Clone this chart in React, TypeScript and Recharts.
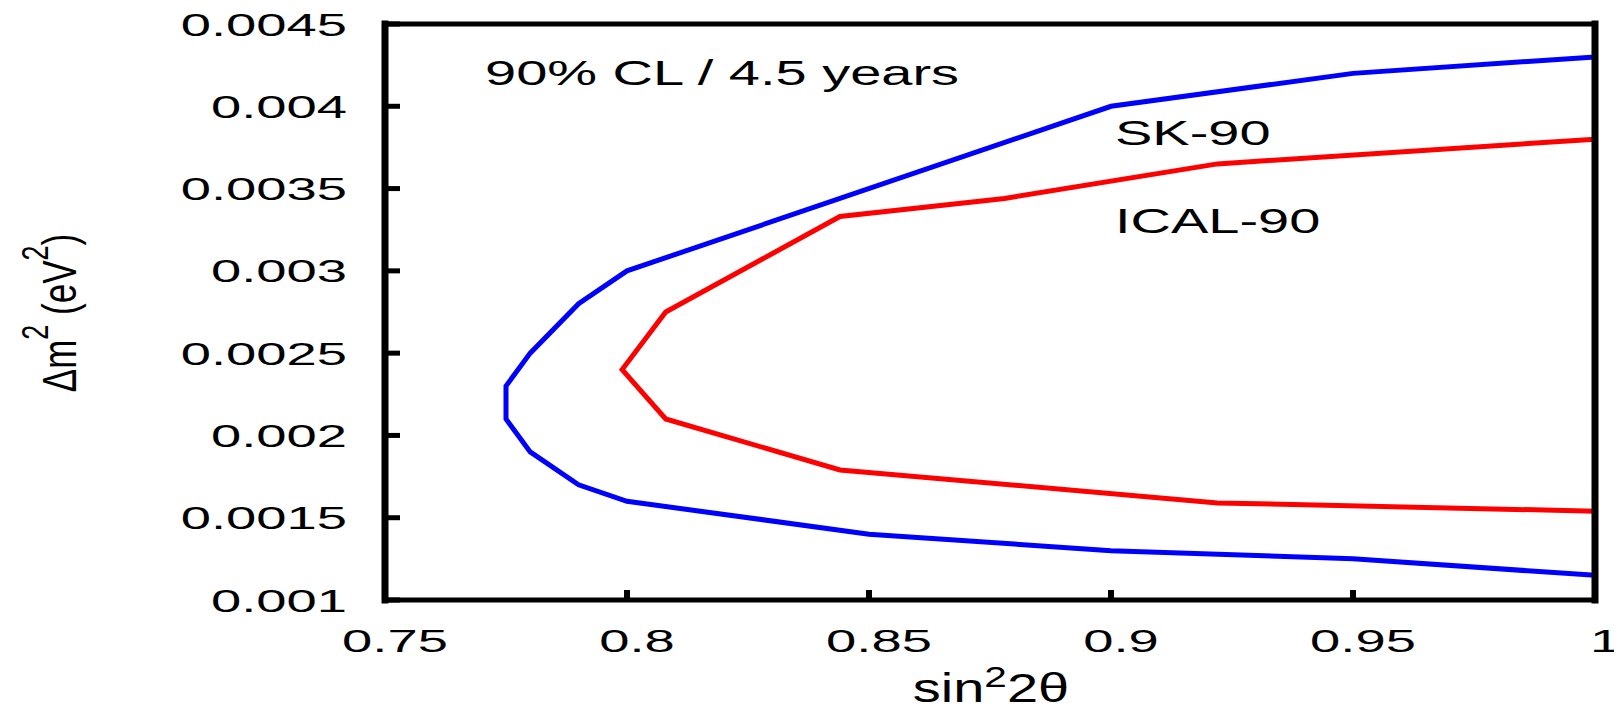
import { LineChart, Line, XAxis, YAxis, Label, Customized } from 'recharts';

const FONT = '"Liberation Sans", Arial, Helvetica, sans-serif';

// SK-90 contour (sin^2 2theta, delta m^2)
const skX = [1, 0.95, 0.9, 0.8, 0.79, 0.78, 0.775, 0.775, 0.78, 0.79, 0.8, 0.85, 0.9, 0.95, 1];
const skY = [0.0043, 0.0042, 0.004, 0.003, 0.0028, 0.0025, 0.0023, 0.0021, 0.0019, 0.0017, 0.0016, 0.0014, 0.0013, 0.00125, 0.00115];

// ICAL-90 contour
const icalX = [1, 0.922, 0.878, 0.844, 0.808, 0.799, 0.808, 0.844, 0.922, 1];
const icalY = [0.0038, 0.00365, 0.00344, 0.00333, 0.00275, 0.0024, 0.0021, 0.00179, 0.00159, 0.00154];

const xTicks = [0.75, 0.8, 0.85, 0.9, 0.95, 1];
const xTickLabels = ['0.75', '0.8', '0.85', '0.9', '0.95', '1'];
const yTicks = [0.001, 0.0015, 0.002, 0.0025, 0.003, 0.0035, 0.004, 0.0045];
const yTickLabels = ['0.001', '0.0015', '0.002', '0.0025', '0.003', '0.0035', '0.004', '0.0045'];

const skData = skX.map((x, i) => ({ x, y: skY[i] }));
const icalData = icalX.map((x, i) => ({ x, y: icalY[i] }));

const BottomTick = (props: any) => {
  const { x, y, payload } = props;
  const label = xTickLabels[xTicks.indexOf(payload.value)];
  return (
    <g>
      <line x1={x} x2={x} y1={y} y2={y - 10} stroke="#000" strokeWidth={6} />
      <text
        transform={`translate(${x + 10},${y + 52}) scale(1.7,1)`}
        textAnchor="middle"
        fontSize={32}
        fontFamily={FONT}
        fill="#000"
      >
        {label}
      </text>
    </g>
  );
};

const TopTick = (props: any) => {
  const { x, y } = props;
  return <line x1={x} x2={x} y1={y} y2={y + 10} stroke="#000" strokeWidth={6} />;
};

const LeftTick = (props: any) => {
  const { x, y, payload } = props;
  const label = yTickLabels[yTicks.indexOf(payload.value)];
  return (
    <g>
      <line x1={x} x2={x + 15} y1={y} y2={y} stroke="#000" strokeWidth={5} />
      <text
        transform={`translate(${x - 38},${y + 11.5}) scale(1.7,1)`}
        textAnchor="end"
        fontSize={32}
        fontFamily={FONT}
        fill="#000"
      >
        {label}
      </text>
    </g>
  );
};

const RightTick = (props: any) => {
  const { x, y } = props;
  return <line x1={x - 15} x2={x} y1={y} y2={y} stroke="#000" strokeWidth={5} />;
};

const YTitle = (props: any) => {
  const { x, y, height } = props.viewBox;
  return (
    <text
      transform={`translate(${x + 76},${y + height / 2 + 1}) scale(1.4,1) rotate(-90)`}
      textAnchor="middle"
      fontSize={35}
      fontFamily={FONT}
      fill="#000"
    >
      Δm<tspan fontSize={27} dy={-20}>2</tspan>
      <tspan dy={20}> (eV</tspan>
      <tspan fontSize={27} dy={-20}>2</tspan>
      <tspan dy={20}>)</tspan>
    </text>
  );
};

const XTitle = (props: any) => {
  const { x, y, width } = props.viewBox;
  return (
    <text
      transform={`translate(${x + width / 2 + 1},${y + 102}) scale(1.4,1)`}
      textAnchor="middle"
      fontSize={40}
      fontFamily={FONT}
      fill="#000"
    >
      sin<tspan fontSize={29} dy={-15}>2</tspan>
      <tspan dy={15}>2θ</tspan>
    </text>
  );
};

const Notes = () => (
  <g fontFamily={FONT} fontSize={35} fill="#000">
    <text transform="translate(485,85) scale(1.6,1)">90% CL / 4.5 years</text>
    <text transform="translate(1115,145) scale(1.6,1)">SK-90</text>
    <text transform="translate(1115,233) scale(1.6,1)">ICAL-90</text>
  </g>
);

const frameV = { stroke: '#000', strokeWidth: 7, strokeLinecap: 'square' as const };
const frameH = { stroke: '#000', strokeWidth: 5, strokeLinecap: 'square' as const };

export default function App() {
  return (
    <div style={{ margin: -8, width: 1622, height: 712, overflow: 'hidden' }}>
      <LineChart width={1622} height={712} margin={{ top: 0, right: 0, bottom: 0, left: 0 }}>
        <XAxis
          type="number"
          dataKey="x"
          domain={[0.75, 1]}
          ticks={xTicks}
          interval={0}
          height={112}
          tickSize={0}
          tickMargin={0}
          tickLine={false}
          axisLine={frameH}
          tick={<BottomTick />}
        >
          <Label content={<XTitle />} />
        </XAxis>
        <XAxis
          xAxisId="top"
          orientation="top"
          type="number"
          dataKey="x"
          domain={[0.75, 1]}
          ticks={xTicks}
          interval={0}
          height={24}
          tickSize={0}
          tickMargin={0}
          tickLine={false}
          axisLine={frameH}
          tick={<TopTick />}
        />
        <YAxis
          type="number"
          dataKey="y"
          domain={[0.001, 0.0045]}
          ticks={yTicks}
          interval={0}
          width={385}
          tickSize={0}
          tickMargin={0}
          tickLine={false}
          axisLine={frameV}
          tick={<LeftTick />}
        >
          <Label content={<YTitle />} />
        </YAxis>
        <YAxis
          yAxisId="right"
          orientation="right"
          type="number"
          dataKey="y"
          domain={[0.001, 0.0045]}
          ticks={yTicks}
          interval={0}
          width={27}
          tickSize={0}
          tickMargin={0}
          tickLine={false}
          axisLine={frameV}
          tick={<RightTick />}
        />
        <Line
          data={skData}
          dataKey="y"
          type="linear"
          stroke="#0000ff"
          strokeWidth={5}
          dot={false}
          isAnimationActive={false}
        />
        <Line
          data={icalData}
          dataKey="y"
          type="linear"
          stroke="#ff0000"
          strokeWidth={5}
          dot={false}
          isAnimationActive={false}
        />
        <Customized component={Notes} />
      </LineChart>
    </div>
  );
}
